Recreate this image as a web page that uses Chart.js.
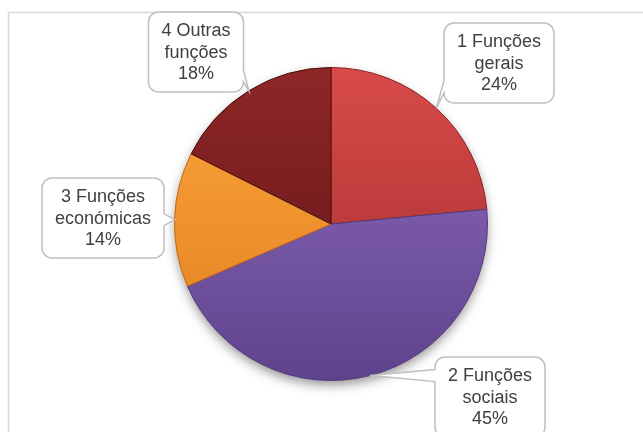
<!DOCTYPE html>
<html>
<head>
<meta charset="utf-8">
<script src="https://cdn.jsdelivr.net/npm/chart.js@4"></script>
<style>
    body { margin: 0; background: #ffffff; }
    #wrap { width: 643px; height: 432px; }
</style>
</head>
<body>
<div id="wrap"><canvas id="pieChart" width="643" height="432"></canvas></div>
<script>
// chart data
const categories = ['1 Funções gerais', '2 Funções sociais', '3 Funções económicas', '4 Outras funções'];
const labelLines = [['1 Funções', 'gerais'], ['2 Funções', 'sociais'], ['3 Funções', 'económicas'], ['4 Outras', 'funções']];
const shares = [23.5, 45, 13.9, 17.6];

// slice colours (light top, dark bottom, edge)
const sliceColors = [
    ['#d84a4a', '#a22c2c', '#8a2020'],
    ['#906ec0', '#5f428c', '#553a80'],
    ['#fba63f', '#e27e1e', '#c56a14'],
    ['#8f2727', '#5c1313', '#4a0e0e']
];

// callout box centres (layout only)
const boxCenters = [[499, 63], [490, 397], [103, 218], [196, 52]];

function sliceFill(ctx) {
    const c = sliceColors[ctx.dataIndex];
    const area = ctx.chart.chartArea;
    if (!area) return c[0];
    const g = ctx.chart.ctx.createLinearGradient(0, area.top, 0, area.bottom);
    g.addColorStop(0, c[0]);
    g.addColorStop(1, c[1]);
    return g;
}

// light frame round the plot, open at the right and bottom
const framePlugin = {
    id: 'frame',
    beforeDraw(chart) {
        const ctx = chart.ctx;
        ctx.save();
        ctx.strokeStyle = '#d9d9d9';
        ctx.lineWidth = 1.5;
        ctx.beginPath();
        ctx.moveTo(8.5, chart.height);
        ctx.lineTo(8.5, 12.5);
        ctx.lineTo(chart.width, 12.5);
        ctx.stroke();
        ctx.restore();
    }
};

// soft shadow under the pie
const shadowPlugin = {
    id: 'pieShadow',
    beforeDatasetsDraw(chart) {
        const arc = chart.getDatasetMeta(0).data[0];
        if (!arc) return;
        const ctx = chart.ctx;
        ctx.save();
        ctx.shadowColor = 'rgba(0,0,0,0.45)';
        ctx.shadowBlur = 12;
        ctx.shadowOffsetY = 5;
        ctx.fillStyle = '#777';
        ctx.beginPath();
        ctx.arc(arc.x, arc.y, arc.outerRadius - 1, 0, Math.PI * 2);
        ctx.fill();
        ctx.restore();
    }
};

// callout boxes pointing at the middle of each slice
const calloutPlugin = {
    id: 'callouts',
    afterDraw(chart) {
        const ctx = chart.ctx;
        const meta = chart.getDatasetMeta(0);
        const total = shares.reduce((a, b) => a + b, 0);
        ctx.save();
        ctx.font = '18px "Liberation Sans", Arial, sans-serif';
        meta.data.forEach((arc, i) => {
            const p = arc.getProps(['x', 'y', 'startAngle', 'endAngle', 'outerRadius']);
            const mid = (p.startAngle + p.endAngle) / 2;
            const tip = [p.x + Math.cos(mid) * p.outerRadius, p.y + Math.sin(mid) * p.outerRadius];
            const lines = labelLines[i].concat([Math.round(shares[i] / total * 100) + '%']);
            let tw = 0;
            lines.forEach(l => { tw = Math.max(tw, ctx.measureText(l).width); });
            const w = tw + 26, h = 80, r = 10;
            const cx = boxCenters[i][0], cy = boxCenters[i][1];
            const L = cx - w / 2, R = cx + w / 2, T = cy - h / 2, B = cy + h / 2;
            let side = null;
            if (tip[0] < L) side = 'left';
            else if (tip[0] > R) side = 'right';
            else if (tip[1] > B) side = 'bottom';
            else if (tip[1] < T) side = 'top';
            const clamp = (v, a, b) => Math.max(a, Math.min(b, v));
            const by = clamp(tip[1], T + r + 6, B - r - 6);
            const bx = clamp(tip[0], L + r + 6, R - r - 6);

            ctx.beginPath();
            ctx.moveTo(L + r, T);
            if (side === 'top') { ctx.lineTo(bx - 6, T); ctx.lineTo(tip[0], tip[1]); ctx.lineTo(bx + 6, T); }
            ctx.lineTo(R - r, T);
            ctx.arcTo(R, T, R, T + r, r);
            if (side === 'right') { ctx.lineTo(R, by - 6); ctx.lineTo(tip[0], tip[1]); ctx.lineTo(R, by + 6); }
            ctx.lineTo(R, B - r);
            ctx.arcTo(R, B, R - r, B, r);
            if (side === 'bottom') { ctx.lineTo(bx + 6, B); ctx.lineTo(tip[0], tip[1]); ctx.lineTo(bx - 6, B); }
            ctx.lineTo(L + r, B);
            ctx.arcTo(L, B, L, B - r, r);
            if (side === 'left') { ctx.lineTo(L, by + 6); ctx.lineTo(tip[0], tip[1]); ctx.lineTo(L, by - 6); }
            ctx.lineTo(L, T + r);
            ctx.arcTo(L, T, L + r, T, r);
            ctx.closePath();
            ctx.fillStyle = '#ffffff';
            ctx.fill();
            ctx.strokeStyle = '#bfbfbf';
            ctx.lineWidth = 1.5;
            ctx.stroke();

            ctx.fillStyle = '#404040';
            ctx.textAlign = 'center';
            ctx.textBaseline = 'middle';
            lines.forEach((l, k) => {
                ctx.fillText(l, cx, cy + (k - 1) * 21.5 + 1);
            });
        });
        ctx.restore();
    }
};

const ctx = document.getElementById('pieChart').getContext('2d');
const chart = new Chart(ctx, {
    type: 'pie',
    data: {
        labels: categories,
        datasets: [{
            data: shares,
            backgroundColor: sliceFill,
            borderColor: sliceColors.map(c => c[2]),
            borderWidth: 1
        }]
    },
    options: {
        responsive: false,
        animation: false,
        layout: { padding: { top: 67, bottom: 51, left: 19, right: 0 } },
        plugins: {
            legend: { display: false },
            tooltip: { enabled: false }
        }
    },
    plugins: [framePlugin, shadowPlugin, calloutPlugin]
});
</script>
</body>
</html>
